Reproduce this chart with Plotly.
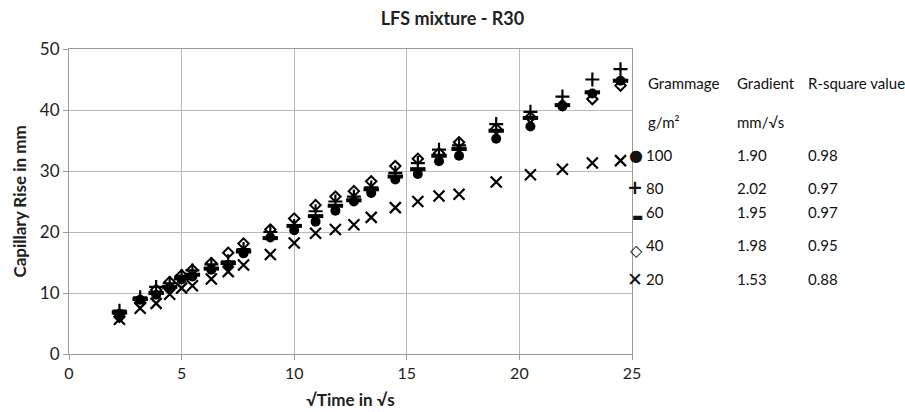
import plotly.graph_objects as go

# sqrt(time) in sqrt(s)
x_vals = [2.24, 3.16, 3.87, 4.47, 5.00, 5.48, 6.32, 7.07, 7.75, 8.94, 10.00, 10.95,
          11.83, 12.65, 13.42, 14.49, 15.49, 16.43, 17.32, 18.97, 20.49, 21.91, 23.24, 24.49]

g100 = [6.6, 8.9, 9.7, 10.8, 12.2, 12.7, 13.8, 14.6, 16.5, 19.1, 20.3, 21.7,
        23.5, 25.0, 26.4, 28.6, 29.5, 31.6, 32.5, 35.3, 37.3, 40.6, 42.7, 44.8]
g80 = [7.1, 9.3, 11.0, 11.6, 12.8, 13.7, 14.7, 15.2, 17.2, 20.0, 21.0, 23.4,
       25.0, 25.8, 27.3, 29.7, 31.3, 33.5, 34.2, 37.7, 39.7, 42.2, 45.0, 46.7]
g60 = [6.8, 9.0, 10.0, 11.0, 12.4, 13.0, 14.0, 14.9, 16.8, 19.0, 21.0, 22.6,
       24.3, 25.2, 27.0, 29.1, 30.3, 32.5, 33.6, 36.6, 38.7, 40.8, 42.9, 44.8]
g40 = [6.1, 8.4, 10.5, 11.8, 12.9, 13.8, 14.9, 16.6, 18.1, 20.4, 22.2, 24.4,
       25.8, 26.7, 28.3, 30.8, 32.0, 32.9, 34.7, 36.9, 38.8, 40.8, 41.8, 44.0]
g20 = [5.7, 7.5, 8.3, 9.8, 10.8, 11.2, 12.3, 13.5, 14.6, 16.3, 18.2, 19.8,
       20.4, 21.2, 22.4, 24.0, 25.0, 25.9, 26.2, 28.2, 29.4, 30.3, 31.3, 31.7]

table_header = ["Grammage", "Gradient", "R-square value"]
table_units = ["g/m²", "mm/√s"]
table_symbols = ["●", "+", "▬", "◇", "✕"]
table_grammage = ["100", "80", "60", "40", "20"]
gradients = ["1.90", "2.02", "1.95", "1.98", "1.53"]
rsquares = ["0.98", "0.97", "0.97", "0.95", "0.88"]

FONT = "Lato"
fig = go.Figure()

fig.add_trace(go.Scatter(x=x_vals, y=g20, mode="markers", name="20",
                         marker=dict(symbol="x-thin-open", size=11, color="black",
                                     line=dict(width=2.2, color="black"))))
fig.add_trace(go.Scatter(x=x_vals, y=g40, mode="markers", name="40",
                         marker=dict(symbol="diamond-open", size=8, color="black",
                                     line=dict(width=2, color="black"))))
fig.add_trace(go.Scatter(x=x_vals, y=g60, mode="markers", name="60",
                         marker=dict(symbol="line-ew-open", size=11, color="black",
                                     line=dict(width=4, color="black"))))
fig.add_trace(go.Scatter(x=x_vals, y=g100, mode="markers", name="100",
                         marker=dict(symbol="circle", size=10, color="black")))
fig.add_trace(go.Scatter(x=x_vals, y=g80, mode="markers", name="80",
                         marker=dict(symbol="cross-thin-open", size=10, color="black",
                                     line=dict(width=2.2, color="black"))))

L, R, T, B = 69, 632, 49, 354
W, H = 905, 412

def px(x):
    return (x - L) / (R - L)

def py(y):
    return (B - y) / (B - T)

ann = []
def add(x, y, text, size=15, xanchor="left", family=FONT):
    ann.append(dict(x=px(x), y=py(y), text=text, xref="paper", yref="paper",
                    xanchor=xanchor, yanchor="middle", showarrow=False, borderpad=0,
                    font=dict(family=family, size=size, color="#111")))

col_x = [647, 736, 807]
for cx, t in zip(col_x, table_header):
    add(cx, 83, t)
for cx, t in zip(col_x[:2], table_units):
    add(cx, 122, t)
text_y = [155, 188, 212, 245, 279]
sym_y = [155, 187, 217, 250, 279]
sym_size = [16, 19, 12, 16, 19]
for ty, sy, ss, sym, gm, g, r in zip(text_y, sym_y, sym_size, table_symbols,
                                      table_grammage, gradients, rsquares):
    add(644, sy, "<b>" + sym + "</b>", size=ss, xanchor="right", family="DejaVu Sans")
    add(645, ty, gm)
    add(736, ty, g)
    add(807, ty, r)

fig.update_layout(
    width=W, height=H,
    margin=dict(l=L, r=W - R, t=T, b=H - B, autoexpand=False),
    paper_bgcolor="white", plot_bgcolor="white",
    showlegend=False,
    title=dict(text="<b>LFS mixture - R30</b>", x=0.5, xanchor="center", y=1 - 19 / H,
               yanchor="middle", font=dict(family=FONT, size=18, color="#222")),
    font=dict(family=FONT, color="#222"),
    annotations=ann,
)
fig.update_xaxes(range=[0, 25], tickvals=[0, 5, 10, 15, 20, 25], showgrid=True, automargin=False,
                 gridcolor="#b8b8b8", gridwidth=1, showline=True, linecolor="#9a9a9a",
                 mirror=True, zeroline=False, ticks="outside", ticklen=5, tickcolor="#9a9a9a",
                 tickfont=dict(family=FONT, size=16, color="#222"),
                 title=dict(text="<b>√Time in √s</b>", font=dict(family=FONT, size=17, color="#222"),
                            standoff=12))
fig.update_yaxes(range=[0, 50], tickvals=[0, 10, 20, 30, 40, 50], showgrid=True, automargin=False,
                 gridcolor="#b8b8b8", gridwidth=1, showline=True, linecolor="#9a9a9a",
                 mirror=True, zeroline=False, ticks="outside", ticklen=5, tickcolor="#9a9a9a",
                 tickfont=dict(family=FONT, size=17, color="#222"),
                 title=dict(text="<b>Capillary Rise in mm</b>", font=dict(family=FONT, size=17, color="#222"),
                            standoff=8))

fig.write_html("out.html")
